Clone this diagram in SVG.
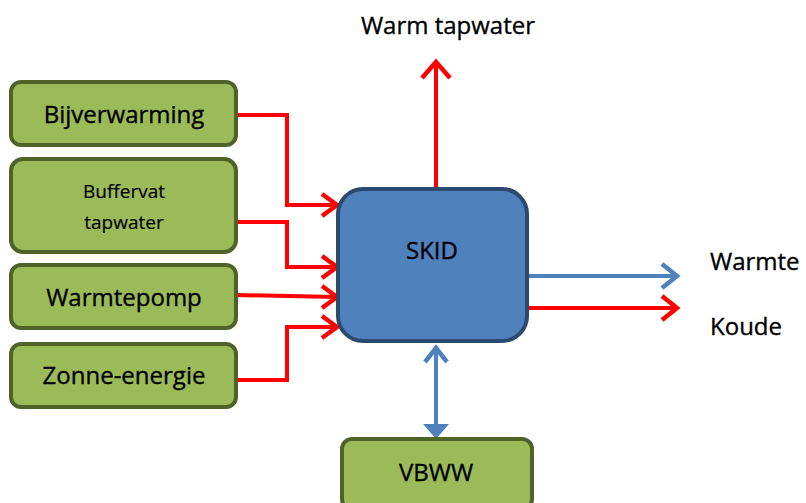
<svg xmlns="http://www.w3.org/2000/svg" width="806" height="503" viewBox="0 0 806 503">
<defs>
<style>
.box{fill:#9bbb59;stroke:#4f6228;stroke-width:4}
.skid{fill:#4f81bd;stroke:#2c4a6e;stroke-width:4}
.t{font-family:"Open Sans","Liberation Sans",sans-serif;fill:#000;text-anchor:middle;font-size:24px;stroke:#000;stroke-width:0.35px}
.s{text-anchor:start}
.red{fill:none;stroke:#ff0000;stroke-width:4}
.blue{fill:none;stroke:#4f81bd;stroke-width:4}
.hr{fill:none;stroke:#ff0000;stroke-width:4.5;stroke-linejoin:miter}
.hb{fill:none;stroke:#4f81bd;stroke-width:4.5}
</style>
</defs>
<rect width="806" height="503" fill="#ffffff"/>
<g id="connectors">
<path class="red" d="M237,115 H287 V205 H336"/>
<path class="hr" d="M322,194 L337,205 L322,216"/>
<path class="red" d="M237,222 H287 V267 H336"/>
<path class="hr" d="M322,256 L337,267 L322,278"/>
<path class="red" d="M237,295 L336,297"/>
<path class="hr" d="M322,286 L337,297 L322,308"/>
<path class="red" d="M237,380 H287 V327 H336"/>
<path class="hr" d="M322,316 L337,327 L322,338"/>
<path class="red" d="M436,188 V62"/>
<path class="hr" d="M422,78 L436,62 L450,78"/>
<path class="blue" d="M527,276 H677"/>
<path class="hb" d="M662,264 L677,276 L662,288"/>
<path class="red" d="M527,308 H677"/>
<path class="hr" d="M662,296 L677,308 L662,320"/>
<path class="blue" d="M436,348 V426"/>
<path class="hb" d="M425,362 L436,348 L447,362"/>
<path d="M423,424 H449 L436,439 Z" fill="#4f81bd"/>
</g>
<g id="bijverwarming">
<rect class="box" x="11" y="82" width="225" height="63" rx="10"/>
<text class="t" x="124" y="123">Bijverwarming</text>
</g>
<g id="buffervat">
<rect class="box" x="11" y="159" width="225" height="93" rx="12"/>
<text class="t" x="124" y="198" style="font-size:19px;stroke-width:0.2px">Buffervat</text>
<text class="t" x="124" y="229" style="font-size:19px;stroke-width:0.2px">tapwater</text>
</g>
<g id="warmtepomp">
<rect class="box" x="11" y="265" width="225" height="63" rx="10"/>
<text class="t" x="124" y="306">Warmtepomp</text>
</g>
<g id="zonne-energie">
<rect class="box" x="11" y="344" width="225" height="63" rx="10"/>
<text class="t" x="124" y="384">Zonne-energie</text>
</g>
<g id="skid">
<rect class="skid" x="338" y="189" width="189" height="152" rx="25"/>
<text class="t" x="432" y="259">SKID</text>
</g>
<g id="vbww">
<rect class="box" x="342" y="439" width="190" height="70" rx="10"/>
<text class="t" x="436" y="481">VBWW</text>
</g>
<g id="labels">
<text class="t" x="448" y="34">Warm tapwater</text>
<text class="t s" x="710" y="270">Warmte</text>
<text class="t s" x="710" y="335">Koude</text>
</g>
</svg>
